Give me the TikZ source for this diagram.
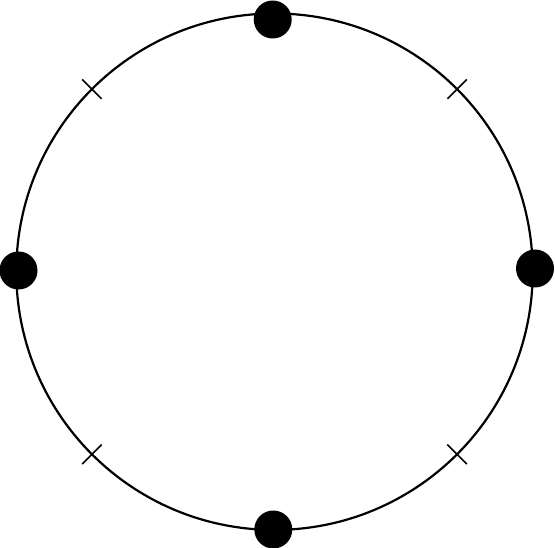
\documentclass[tikz,border=0pt]{standalone}
\usetikzlibrary{calc}
\tikzset{
  ring/.style={draw=black, line width=2.2pt},
  bigdot/.style={circle, fill=black, inner sep=0pt, minimum size=38pt},
  tick/.style={draw=black, line width=1.6pt}
}
\begin{document}
\begin{tikzpicture}[x=1pt,y=-1pt]
\useasboundingbox (0,0) rectangle (555,548);
\coordinate (c) at (274.5,271.7);
\draw[ring] (c) circle (258.2);
\foreach \a in {45,135,225,315}{
  \draw[tick] ($(c)+(\a:244.5)$) -- ($(c)+(\a:272)$);
}
\node[bigdot] (n) at (272.7,19.5) {};
\node[bigdot] (w) at (18.5,270.5) {};
\node[bigdot] (e) at (535,268.5) {};
\node[bigdot] (s) at (273.3,529.5) {};
\end{tikzpicture}
\end{document}
